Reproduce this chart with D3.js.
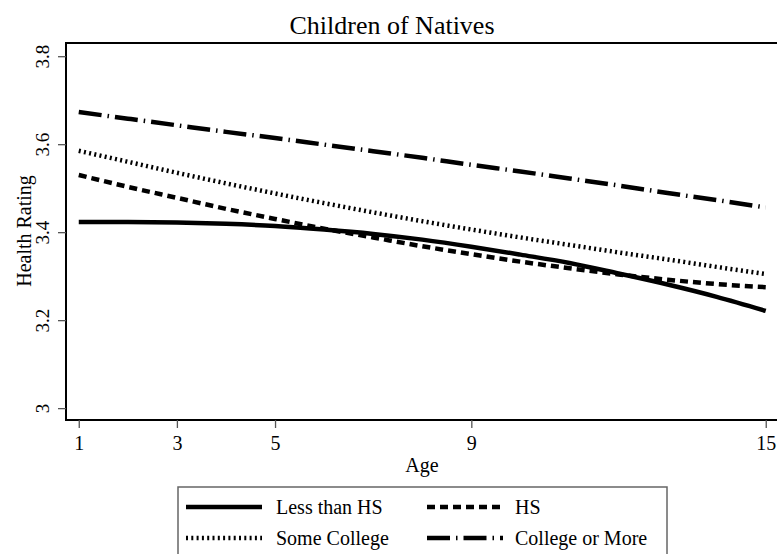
<!DOCTYPE html>
<html>
<head>
<meta charset="utf-8">
<script src="https://cdn.jsdelivr.net/npm/d3@7"></script>
<style>
  body { margin: 0; background: #fff; }
  svg text { font-family: "Liberation Serif", "Times New Roman", serif; fill: #000; }
</style>
</head>
<body>
<svg id="chart" width="777" height="554"></svg>
<script>
// values
const ages = [1, 2, 3, 4, 5, 6, 7, 8, 9, 10, 11, 12, 13, 14, 15];
const lessThanHS = [3.423, 3.423, 3.422, 3.419, 3.414, 3.406, 3.396, 3.383, 3.367, 3.349, 3.330, 3.306, 3.281, 3.253, 3.221];
const hsOnly = [3.530, 3.503, 3.478, 3.453, 3.430, 3.408, 3.388, 3.368, 3.350, 3.333, 3.318, 3.304, 3.292, 3.282, 3.275];
const someCollege = [3.585, 3.560, 3.535, 3.511, 3.488, 3.466, 3.445, 3.425, 3.406, 3.388, 3.371, 3.354, 3.338, 3.321, 3.305];
const collegePlus = [3.673, 3.658, 3.643, 3.628, 3.614, 3.599, 3.584, 3.569, 3.553, 3.538, 3.522, 3.506, 3.489, 3.473, 3.456];

const xTicks = [1, 3, 5, 9, 15];
const yTicks = [3, 3.2, 3.4, 3.6, 3.8];
const seriesNames = ["Less than HS", "HS", "Some College", "College or More"];

const series = [
    { name: seriesNames[0], values: lessThanHS, dash: null },
    { name: seriesNames[1], values: hsOnly, dash: "8,5" },
    { name: seriesNames[2], values: someCollege, dash: "2,3.3" },
    { name: seriesNames[3], values: collegePlus, dash: "23,6,1.5,6" },
];

const serif = "'Liberation Serif', 'Times New Roman', serif";
const svg = d3.select("#chart");
const plotLeft = 66, plotTop = 43, plotRight = 780, plotBottom = 420;

const x = d3.scaleLinear().domain([0.74, 15.3]).range([plotLeft, plotLeft + (15.3 - 0.74) * 49.07]);
const y = d3.scaleLinear().domain([2.973, 3.83]).range([plotBottom, plotTop]);

// frame (right side runs off the page)
svg.append("rect")
    .attr("x", plotLeft).attr("y", plotTop)
    .attr("width", plotRight - plotLeft).attr("height", plotBottom - plotTop)
    .attr("fill", "none").attr("stroke", "#000").attr("stroke-width", 2);

// y axis
const yAxis = svg.append("g")
    .attr("transform", `translate(${plotLeft},0)`)
    .call(d3.axisLeft(y).tickValues(yTicks).tickSize(8).tickFormat(d3.format("")))
    .attr("font-family", serif);
yAxis.select(".domain").remove();
yAxis.selectAll(".tick line").attr("stroke", "#555").attr("stroke-width", 1.3);
yAxis.selectAll(".tick text")
    .attr("font-size", 19)
    .attr("font-family", serif)
    .attr("transform", "rotate(-90)")
    .attr("x", 0).attr("y", -17).attr("dy", 0)
    .attr("text-anchor", "middle");

// x axis
const xAxis = svg.append("g")
    .attr("transform", `translate(0,${plotBottom})`)
    .call(d3.axisBottom(x).tickValues(xTicks).tickSize(8).tickFormat(d3.format("d")))
    .attr("font-family", serif);
xAxis.select(".domain").remove();
xAxis.selectAll(".tick line").attr("stroke", "#555").attr("stroke-width", 1.3);
xAxis.selectAll(".tick text").attr("font-size", 20).attr("font-family", serif)
    .attr("y", 16).attr("dy", "0.71em");

// titles
svg.append("text").attr("x", 392).attr("y", 34).attr("text-anchor", "middle")
    .attr("font-family", serif).attr("font-size", 26).text("Children of Natives");
svg.append("text").attr("x", 422).attr("y", 472).attr("text-anchor", "middle")
    .attr("font-family", serif).attr("font-size", 20).text("Age");
svg.append("text").attr("transform", "translate(31,231) rotate(-90)").attr("text-anchor", "middle")
    .attr("font-family", serif).attr("font-size", 20).text("Health Rating");

// lines
const line = d3.line()
    .x((d, i) => x(ages[i]))
    .y((d) => y(d))
    .curve(d3.curveMonotoneX);

svg.append("g").selectAll("path")
    .data(series)
    .enter()
    .append("path")
    .attr("d", (d) => line(d.values))
    .attr("fill", "none")
    .attr("stroke", "#000")
    .attr("stroke-width", 4.5)
    .attr("stroke-dasharray", (d) => d.dash);

// legend
const legend = svg.append("g");
legend.append("rect")
    .attr("x", 178).attr("y", 487).attr("width", 489).attr("height", 80)
    .attr("fill", "#fff").attr("stroke", "#666").attr("stroke-width", 1.5);

const legendPos = [
    { lx: 186, tx: 276, cy: 507 },
    { lx: 427, tx: 515, cy: 507 },
    { lx: 186, tx: 276, cy: 538 },
    { lx: 427, tx: 515, cy: 538 },
];

series.forEach((s, i) => {
    const p = legendPos[i];
    legend.append("line")
        .attr("x1", p.lx).attr("x2", p.lx + 76)
        .attr("y1", p.cy).attr("y2", p.cy)
        .attr("stroke", "#000").attr("stroke-width", 4.5)
        .attr("stroke-dasharray", s.dash);
    legend.append("text")
        .attr("x", p.tx).attr("y", p.cy + 7)
        .attr("font-family", serif)
        .attr("font-size", 20)
        .text(s.name);
});
</script>
</body>
</html>
